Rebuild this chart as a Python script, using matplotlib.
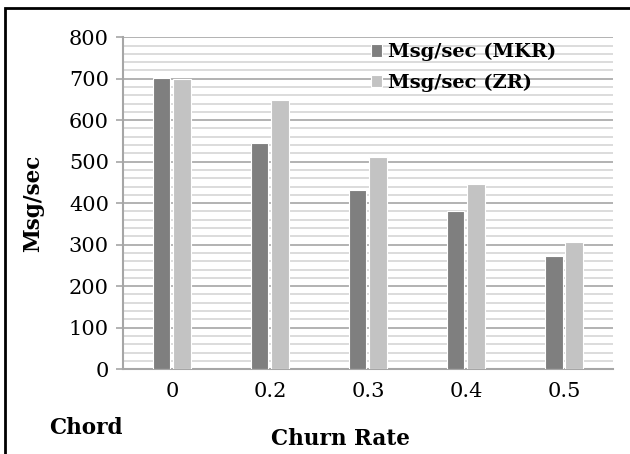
import numpy as np
import matplotlib
matplotlib.use("Agg")
import matplotlib.pyplot as plt
from matplotlib.patches import Rectangle
from matplotlib.ticker import MultipleLocator

#values
churn=["0","0.2","0.3","0.4","0.5"]
mkr=[702,545,431,381,272]
zr=[700,648,511,446,307]
series_names=["Msg/sec (MKR)","Msg/sec (ZR)"]

plt.rcParams['font.family']=['DejaVu Serif']
fig=plt.figure(figsize=(6.3,4.54),dpi=100)
ax=fig.add_axes([0.195,0.187,0.778,0.731])

x=np.arange(len(churn))
w=0.18
ax.bar(x-0.105,mkr,w,color="#7f7f7f",edgecolor="white",linewidth=0.8,zorder=3,label=series_names[0])
ax.bar(x+0.105,zr,w,color="#c3c3c3",edgecolor="white",linewidth=0.8,zorder=3,label=series_names[1])

ax.set_xlim(-0.5,len(churn)-0.5)
ax.set_ylim(0,800)
ax.yaxis.set_major_locator(MultipleLocator(100))
ax.yaxis.set_minor_locator(MultipleLocator(20))
ax.grid(axis="y",which="major",color="#a6a6a6",linewidth=1.2,zorder=0)
ax.grid(axis="y",which="minor",color="#d6d6d6",linewidth=1.2,zorder=0)
ax.set_xticks(x)
ax.set_xticklabels(churn)
ax.tick_params(axis="y",which="major",length=5,color="#a6a6a6",width=1.2,pad=5,labelsize=15)
ax.tick_params(axis="y",which="minor",length=0)
ax.tick_params(axis="x",length=0,pad=9,labelsize=15)
for s in ["top","right"]:
    ax.spines[s].set_visible(False)
for s in ["left","bottom"]:
    ax.spines[s].set_color("#a6a6a6")
    ax.spines[s].set_linewidth(1.5)

ax.set_ylabel("Msg/sec",fontsize=15.5,fontweight="bold")
ax.yaxis.set_label_coords(-0.16,0.5)
fig.text(0.54,0.02,"Churn Rate",fontsize=15.5,fontweight="bold",ha="center")
fig.text(0.137,0.045,"Chord",fontsize=15.5,fontweight="bold",ha="center")

leg=ax.legend(loc="upper left",bbox_to_anchor=(0.47,1.035),frameon=False,
              prop={"size":14,"weight":"bold"},handlelength=0.6,handleheight=0.6,
              handletextpad=0.3,labelspacing=0.62)

#black frame around the whole picture
fig.patches.append(Rectangle((5/630,-0.05),1.1,1-8/454+0.05,transform=fig.transFigure,
                             fill=False,edgecolor="black",linewidth=2))

fig.savefig("out.png",dpi=100)
